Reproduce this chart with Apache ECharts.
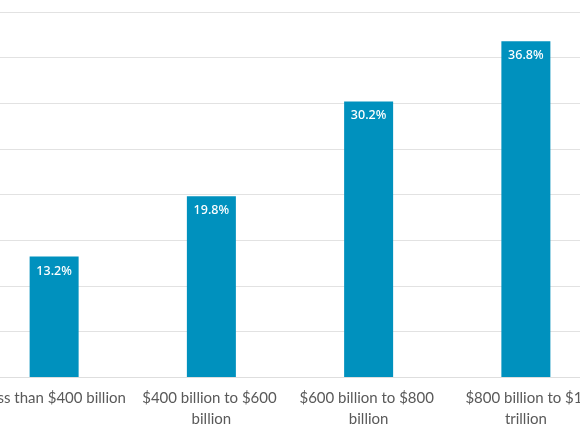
<!DOCTYPE html>
<html>
<head>
<meta charset="utf-8">
<script src="https://cdn.jsdelivr.net/npm/echarts@6/dist/echarts.min.js"></script>
<style>
html,body{margin:0;padding:0;background:#fff;overflow:hidden;width:580px;height:435px;}
#chart{width:632px;height:435px;margin-left:-26px;}
</style>
</head>
<body>
<div id="chart"></div>
<script>
const categories = ["Less than $400 billion", "$400 billion to $600 billion", "$600 billion to $800 billion", "$800 billion to $1 trillion"];
const values = [13.2, 19.8, 30.2, 36.8];

const chart = echarts.init(document.getElementById('chart'), null, {renderer: 'canvas'});
chart.setOption({
  animation: false,
  grid: {left: 0, right: 0, top: 12, bottom: 58, containLabel: false},
  xAxis: {
    type: 'category',
    data: categories,
    axisLine: {show: true, lineStyle: {color: '#dedede', width: 1}},
    axisTick: {show: false},
    axisLabel: {
      color: '#595959', fontFamily: 'Lato', fontSize: 15, margin: 11,
      width: 155, overflow: 'break', lineHeight: 21, interval: 0
    }
  },
  yAxis: {
    type: 'value', min: 0, max: 40, interval: 5,
    axisLabel: {show: false},
    axisLine: {show: false},
    axisTick: {show: false},
    splitLine: {lineStyle: {color: '#e2e2e2', width: 1}}
  },
  series: [{
    type: 'bar',
    data: values,
    barWidth: 49,
    itemStyle: {color: '#0091be'},
    label: {
      show: true, position: 'insideTop', distance: 8,
      color: '#ffffff', fontFamily: 'Noto Sans', fontSize: 12.5, fontWeight: 500,
      formatter: p => p.value.toFixed(1) + '%'
    }
  }]
});
</script>
</body>
</html>
